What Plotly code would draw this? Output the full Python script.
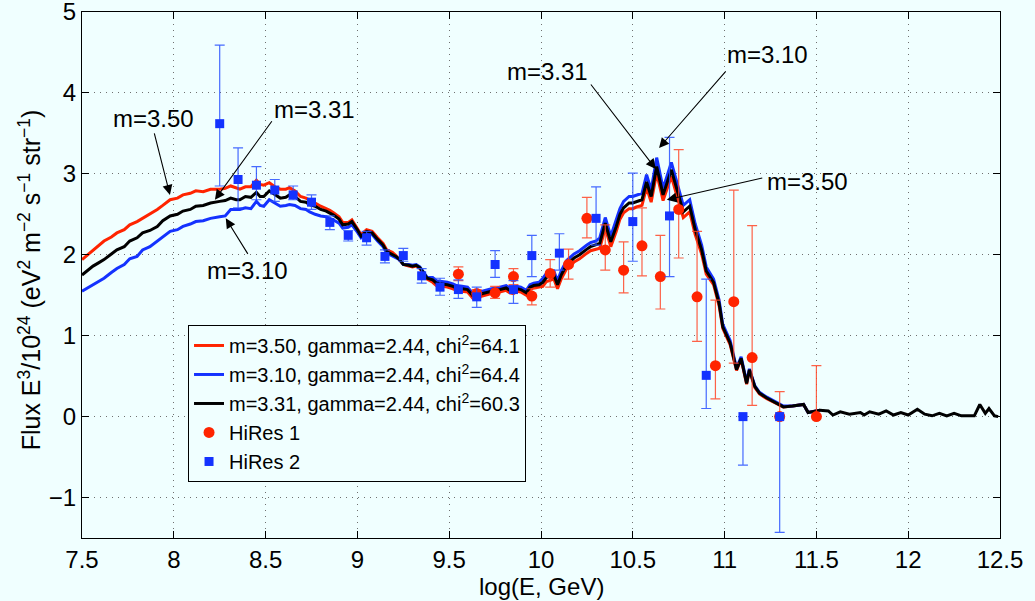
import plotly.graph_objects as go

# ---- model curves (log10 E [GeV], flux E^3/1e24) ----
logE = [7.50, 7.53, 7.56, 7.59, 7.62, 7.66, 7.69, 7.73, 7.76, 7.80, 7.83, 7.87, 7.91, 7.94, 7.98,
        8.02, 8.05, 8.09, 8.12, 8.16, 8.20, 8.25, 8.28, 8.31, 8.34, 8.36, 8.39, 8.42, 8.45, 8.47,
        8.49, 8.52, 8.55, 8.58, 8.61, 8.63, 8.66, 8.69, 8.72, 8.74, 8.77, 8.80, 8.83, 8.85, 8.87,
        8.90, 8.92, 8.95, 8.97, 9.00, 9.02, 9.05, 9.08, 9.11, 9.14, 9.16, 9.19, 9.21, 9.23, 9.25,
        9.28, 9.30, 9.32, 9.34, 9.36, 9.38, 9.41, 9.43, 9.46, 9.49, 9.52, 9.54, 9.57, 9.60, 9.63,
        9.66, 9.69, 9.71, 9.73, 9.76, 9.78, 9.81, 9.83, 9.85, 9.87, 9.89, 9.92, 9.94, 9.96, 9.99,
        10.01, 10.03, 10.05, 10.07, 10.09, 10.11, 10.14, 10.16, 10.18, 10.21, 10.23, 10.25, 10.27, 10.30, 10.32,
        10.35, 10.38, 10.41, 10.43, 10.45, 10.48, 10.50, 10.52, 10.55, 10.575, 10.60, 10.63, 10.665, 10.71, 10.74,
        10.775, 10.81, 10.84, 10.875, 10.90, 10.94, 10.97, 10.99, 11.03, 11.065, 11.09, 11.12, 11.135, 11.165, 11.19,
        11.23, 11.27, 11.32, 11.37, 11.43, 11.455, 11.52,
        11.565, 11.59, 11.63, 11.68, 11.74, 11.76, 11.79, 11.84, 11.88, 11.92, 11.96, 12.00, 12.05, 12.09, 12.13,
        12.17, 12.21, 12.25, 12.29, 12.33, 12.36, 12.39, 12.42, 12.44, 12.47, 12.49]

flux_m331 = [1.75, 1.81, 1.86, 1.90, 1.94, 2.01, 2.06, 2.10, 2.17, 2.21, 2.27, 2.30, 2.35, 2.42, 2.48,
             2.50, 2.54, 2.56, 2.60, 2.61, 2.64, 2.66, 2.67, 2.70, 2.68, 2.68, 2.72, 2.71, 2.77, 2.72,
             2.72, 2.79, 2.74, 2.70, 2.71, 2.74, 2.72, 2.66, 2.65, 2.62, 2.60, 2.56, 2.54, 2.52, 2.49,
             2.44, 2.37, 2.38, 2.41, 2.31, 2.23, 2.29, 2.27, 2.19, 2.12, 2.04, 2.01, 1.98, 1.94, 1.88,
             1.87, 1.86, 1.87, 1.84, 1.78, 1.71, 1.69, 1.65, 1.64, 1.63, 1.61, 1.59, 1.58, 1.57, 1.49,
             1.51, 1.53, 1.54, 1.55, 1.56, 1.57, 1.59, 1.56, 1.55, 1.58, 1.57, 1.53, 1.60, 1.62, 1.63,
             1.66, 1.72, 1.74, 1.75, 1.63, 1.75, 1.88, 1.92, 1.96, 2.00, 2.04, 2.07, 2.10, 2.12, 2.14,
             2.39, 2.16, 2.35, 2.50, 2.58, 2.64, 2.64, 2.66, 2.68, 2.90, 2.72, 3.09, 2.74, 3.05, 2.80,
             2.53, 2.60, 2.31, 2.06, 1.80, 1.66, 1.40, 1.11, 0.91, 0.58, 0.72, 0.41, 0.58, 0.37, 0.29,
             0.23, 0.18, 0.12, 0.13, 0.15, 0.05, 0.08,
             0.07, 0.02, 0.06, 0.03, 0.05, 0.02, 0.06, 0.03, 0.07, 0.02, 0.05, 0.02, 0.09, 0.03, 0.01,
             0.04, 0.01, 0.04, 0.01, 0.01, 0.01, 0.15, 0.04, 0.10, 0.01, 0.00]

flux_m350 = [1.94, 2.00, 2.06, 2.11, 2.17, 2.22, 2.27, 2.31, 2.37, 2.41, 2.45, 2.50, 2.56, 2.61, 2.68,
             2.70, 2.74, 2.76, 2.79, 2.78, 2.81, 2.81, 2.82, 2.85, 2.82, 2.81, 2.84, 2.84, 2.92, 2.87,
             2.86, 2.89, 2.84, 2.81, 2.81, 2.83, 2.79, 2.72, 2.70, 2.68, 2.64, 2.60, 2.57, 2.55, 2.52,
             2.47, 2.40, 2.40, 2.43, 2.33, 2.25, 2.31, 2.29, 2.21, 2.14, 2.06, 2.03, 1.99, 1.94, 1.88,
             1.86, 1.85, 1.86, 1.83, 1.77, 1.70, 1.66, 1.62, 1.61, 1.60, 1.58, 1.56, 1.55, 1.54, 1.46,
             1.48, 1.50, 1.51, 1.52, 1.53, 1.54, 1.56, 1.53, 1.52, 1.55, 1.54, 1.50, 1.57, 1.59, 1.60,
             1.61, 1.67, 1.69, 1.70, 1.58, 1.70, 1.83, 1.87, 1.91, 1.95, 1.99, 2.02, 2.05, 2.07, 2.08,
             2.33, 2.10, 2.29, 2.44, 2.52, 2.57, 2.57, 2.59, 2.61, 2.83, 2.65, 3.01, 2.67, 2.97, 2.73,
             2.46, 2.53, 2.25, 2.01, 1.76, 1.63, 1.37, 1.09, 0.89, 0.57, 0.71, 0.40, 0.57, 0.36, 0.28,
             0.22, 0.18, 0.12, 0.13, 0.15, 0.05, 0.08]

flux_m310 = [1.55, 1.59, 1.63, 1.67, 1.71, 1.78, 1.83, 1.88, 1.95, 1.98, 2.06, 2.10, 2.17, 2.22, 2.29,
             2.31, 2.35, 2.38, 2.41, 2.42, 2.45, 2.47, 2.48, 2.56, 2.56, 2.56, 2.58, 2.57, 2.66, 2.61,
             2.60, 2.68, 2.64, 2.60, 2.61, 2.62, 2.61, 2.57, 2.56, 2.53, 2.50, 2.48, 2.47, 2.45, 2.43,
             2.39, 2.33, 2.34, 2.37, 2.28, 2.21, 2.27, 2.25, 2.17, 2.10, 2.02, 1.99, 1.97, 1.94, 1.88,
             1.88, 1.87, 1.88, 1.85, 1.79, 1.72, 1.72, 1.68, 1.67, 1.66, 1.64, 1.62, 1.61, 1.60, 1.52,
             1.54, 1.56, 1.57, 1.58, 1.59, 1.60, 1.62, 1.59, 1.58, 1.61, 1.60, 1.56, 1.63, 1.65, 1.66,
             1.71, 1.77, 1.79, 1.80, 1.68, 1.80, 1.93, 1.97, 2.01, 2.05, 2.09, 2.12, 2.15, 2.17, 2.21,
             2.46, 2.23, 2.42, 2.57, 2.66, 2.72, 2.72, 2.74, 2.76, 2.99, 2.80, 3.20, 2.82, 3.14, 2.88,
             2.61, 2.68, 2.38, 2.12, 1.85, 1.70, 1.44, 1.14, 0.94, 0.60, 0.74, 0.43, 0.59, 0.38, 0.30,
             0.24, 0.19, 0.13, 0.13, 0.15, 0.05, 0.08]

# ---- HiRes 1 ----
hr1_logE = [9.55, 9.65, 9.75, 9.85, 9.95, 10.05, 10.15, 10.25, 10.35, 10.45, 10.55, 10.65, 10.75,
            10.85, 10.95, 11.05, 11.15, 11.30, 11.50]
hr1_flux = [1.76, 1.52, 1.53, 1.73, 1.49, 1.77, 1.88, 2.45, 2.06, 1.81, 2.11, 1.73, 2.56,
            1.48, 0.63, 1.42, 0.73, 0.00, 0.00]
hr1_err_up = [0.09, 0.05, 0.08, 0.10, 0.09, 0.17, 0.19, 0.26, 0.31, 0.35, 0.47, 0.51, 0.74,
              0.81, 0.81, 1.38, 1.63, 0.31, 0.63]
hr1_err_dn = [0.08, 0.05, 0.07, 0.10, 0.11, 0.17, 0.18, 0.24, 0.25, 0.28, 0.37, 0.40, 0.60,
              0.55, 0.41, 0.76, 0.59, 0.00, 0.00]

# ---- HiRes 2 ----
hr2_logE = [8.25, 8.35, 8.45, 8.55, 8.65, 8.75, 8.85, 8.95, 9.05, 9.15, 9.25, 9.35, 9.45, 9.55,
            9.65, 9.75, 9.85, 9.95, 10.10, 10.30, 10.50, 10.70, 10.90, 11.10, 11.30]
hr2_flux = [3.62, 2.93, 2.86, 2.80, 2.74, 2.65, 2.40, 2.24, 2.21, 1.98, 1.99, 1.74, 1.60, 1.57,
            1.48, 1.88, 1.57, 1.99, 2.02, 2.45, 2.41, 2.48, 0.51, 0.00, 0.00]
hr2_err_up = [0.97, 0.39, 0.23, 0.13, 0.11, 0.09, 0.08, 0.06, 0.08, 0.08, 0.09, 0.09, 0.11, 0.12,
              0.12, 0.17, 0.11, 0.25, 0.24, 0.39, 0.60, 0.97, 1.19, 0.00, 0.00]
hr2_err_dn = [0.77, 0.35, 0.18, 0.14, 0.06, 0.09, 0.09, 0.07, 0.09, 0.08, 0.07, 0.09, 0.10, 0.11,
              0.13, 0.16, 0.17, 0.26, 0.21, 0.33, 0.49, 0.75, 0.41, 0.60, 1.43]

x_ticks = [7.5, 8, 8.5, 9, 9.5, 10, 10.5, 11, 11.5, 12, 12.5]
y_ticks = [-1, 0, 1, 2, 3, 4, 5]

FONT = "Liberation Sans, Arial, Helvetica, sans-serif"
BG = "#F0FFFF"
RED = "#FF2400"
BLUE = "#1432FF"

fig = go.Figure()
fig.add_trace(go.Scatter(x=logE[:len(flux_m350)], y=flux_m350, mode="lines",
                         line=dict(color=RED, width=3),
                         name="m=3.50, gamma=2.44, chi<sup>2</sup>=64.1"))
fig.add_trace(go.Scatter(x=logE[:len(flux_m310)], y=flux_m310, mode="lines",
                         line=dict(color=BLUE, width=3),
                         name="m=3.10, gamma=2.44, chi<sup>2</sup>=64.4"))
fig.add_trace(go.Scatter(x=logE, y=flux_m331, mode="lines",
                         line=dict(color="black", width=3),
                         name="m=3.31, gamma=2.44, chi<sup>2</sup>=60.3"))
fig.add_trace(go.Scatter(x=hr1_logE, y=hr1_flux, mode="markers",
                         marker=dict(symbol="circle", size=11, color=RED),
                         error_y=dict(type="data", symmetric=False, array=hr1_err_up,
                                      arrayminus=hr1_err_dn, color="rgba(255,70,40,0.85)",
                                      thickness=1.2, width=5),
                         name="HiRes 1"))
fig.add_trace(go.Scatter(x=hr2_logE, y=hr2_flux, mode="markers",
                         marker=dict(symbol="square", size=9, color=BLUE),
                         error_y=dict(type="data", symmetric=False, array=hr2_err_up,
                                      arrayminus=hr2_err_dn, color="rgba(40,80,255,0.85)",
                                      thickness=1.2, width=5),
                         name="HiRes 2"))

# arrows (head at x,y; tail offset in pixels) and labels
arrows = [
    (7.979, 2.74, -16, -63), (8.224, 2.68, 58, -80), (8.283, 2.45, 23, 37),
    (10.625, 3.06, -66, -86), (10.643, 3.32, 68, -78), (10.685, 2.68, 97, -22),
]
labels = [
    (7.887, 3.69, "m=3.50"), (8.769, 3.80, "m=3.31"), (8.404, 1.80, "m=3.10"),
    (10.033, 4.27, "m=3.31"), (11.236, 4.47, "m=3.10"), (11.449, 2.91, "m=3.50"),
]
ann = []
for hx, hy, ax, ay in arrows:
    ann.append(dict(x=hx, y=hy, xref="x", yref="y", ax=ax, ay=ay, text="",
                    showarrow=True, arrowhead=2, arrowsize=1.8, arrowwidth=1.1,
                    arrowcolor="black"))
for tx, ty, t in labels:
    ann.append(dict(x=tx, y=ty, xref="x", yref="y", text=t, showarrow=False,
                    font=dict(family=FONT, size=24, color="black")))
ann.append(dict(x=0.5, y=-0.093, xref="paper", yref="paper", text="log(E, GeV)",
                showarrow=False, yanchor="middle",
                font=dict(family=FONT, size=24, color="black")))
ann.append(dict(x=-0.0566, y=0.49, xref="paper", yref="paper", textangle=-90,
                text="Flux E<sup>3</sup>/10<sup>24</sup> (eV<sup>2</sup> m<sup>−2</sup> s<sup>−1</sup> str<sup>−1</sup>)",
                showarrow=False, xanchor="center", yanchor="middle",
                font=dict(family=FONT, size=25, color="black")))

axis_common = dict(showline=True, linecolor="black", linewidth=1, mirror="ticks",
                   ticks="inside", ticklen=7, tickcolor="black", showgrid=True,
                   gridcolor="#707070", gridwidth=1, griddash="1px,5px", zeroline=False,
                   ticklabeloverflow="allow", automargin=False,
                   tickfont=dict(family=FONT, size=24, color="black"))

fig.update_layout(
    width=1035, height=601,
    margin=dict(l=82, r=35, t=12, b=63, autoexpand=False),
    paper_bgcolor=BG, plot_bgcolor=BG,
    font=dict(family=FONT, color="black"),
    xaxis=dict(range=[7.5, 12.5], tickvals=x_ticks,
               ticktext=[f"{v:g}" for v in x_ticks], **axis_common),
    yaxis=dict(range=[-1.5, 5], tickvals=y_ticks, **axis_common),
    legend=dict(x=0.1155, y=0.405, xanchor="left", yanchor="top",
                bgcolor=BG, bordercolor="black", borderwidth=1,
                font=dict(family=FONT, size=20, color="black"), tracegroupgap=0),
    annotations=ann,
    showlegend=True,
)

fig.write_html("out.html")
